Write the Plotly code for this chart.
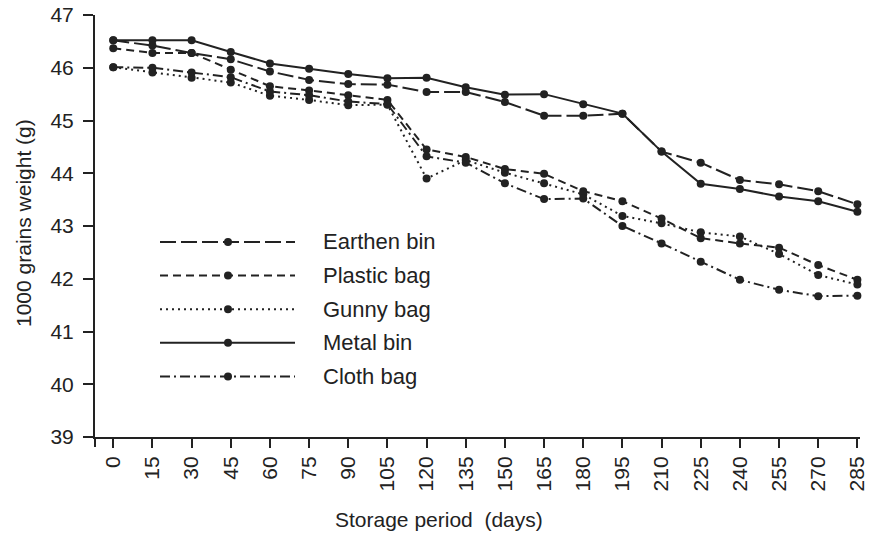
import plotly.graph_objects as go

days = [0, 15, 30, 45, 60, 75, 90, 105, 120, 135, 150, 165, 180, 195, 210, 225, 240, 255, 270, 285]
earthen = [46.52, 46.42, 46.28, 46.16, 45.93, 45.77, 45.69, 45.68, 45.54, 45.54, 45.35, 45.09, 45.09, 45.13, 44.41, 44.20, 43.87, 43.79, 43.66, 43.41]
plastic = [46.37, 46.28, 46.28, 45.96, 45.65, 45.57, 45.48, 45.39, 44.45, 44.31, 44.08, 43.99, 43.66, 43.47, 43.14, 42.77, 42.67, 42.59, 42.26, 41.98]
gunny = [46.01, 45.91, 45.81, 45.72, 45.47, 45.39, 45.29, 45.30, 43.90, 44.25, 44.01, 43.81, 43.60, 43.19, 43.05, 42.88, 42.80, 42.47, 42.07, 41.89]
metal = [46.52, 46.52, 46.52, 46.30, 46.08, 45.98, 45.88, 45.80, 45.81, 45.63, 45.49, 45.50, 45.31, 45.13, 44.41, 43.80, 43.70, 43.56, 43.47, 43.27]
cloth = [46.01, 46.00, 45.91, 45.82, 45.55, 45.48, 45.36, 45.31, 44.32, 44.20, 43.81, 43.51, 43.52, 43.00, 42.67, 42.32, 41.98, 41.79, 41.67, 41.68]

series_names = ["Earthen bin", "Plastic bag", "Gunny bag", "Metal bin", "Cloth bag"]
series_values = [earthen, plastic, gunny, metal, cloth]
dashes = ["16px,5px", "8px,5px", "2px,4px", "solid", "10px,4px,2px,4px"]
y_ticks = [39, 40, 41, 42, 43, 44, 45, 46, 47]
x_title = "Storage period\u00a0 (days)"
y_title = "1000 grains weight (g)"

INK = "#222222"
FONT = "Liberation Sans, Arial, sans-serif"
LW = 2.0

fig = go.Figure()
for name, vals, dash in zip(series_names, series_values, dashes):
    fig.add_trace(go.Scatter(
        x=days, y=vals, name=name, mode="lines+markers",
        line=dict(color=INK, width=LW, dash=dash),
        marker=dict(color=INK, size=8, symbol="circle"),
        cliponaxis=False, showlegend=False,
    ))

# layout geometry (pixels)
L, R, T, B = 95, 860, 15, 437
W, H = R - L, B - T
def px_x(p):
    return (p - L) / W
def px_y(p):
    return (B - p) / H

# custom legend (long line samples like the reference)
legend_rows = [242, 275.6, 309.2, 342.8, 376.4]
shapes = []
annotations = []
for name, dash, ry in zip(series_names, dashes, legend_rows):
    shapes.append(dict(type="line", xref="paper", yref="paper",
                       x0=px_x(160), x1=px_x(295), y0=px_y(ry), y1=px_y(ry),
                       line=dict(color=INK, width=LW, dash=dash)))
    shapes.append(dict(type="circle", xref="paper", yref="paper",
                       x0=px_x(224), x1=px_x(232), y0=px_y(ry + 4), y1=px_y(ry - 4),
                       fillcolor=INK, line=dict(color=INK, width=0)))
    annotations.append(dict(xref="paper", yref="paper", x=px_x(321), y=px_y(ry),
                            xanchor="left", yanchor="middle", showarrow=False,
                            text=name, font=dict(family=FONT, size=22, color=INK)))

# axis titles
annotations.append(dict(xref="paper", yref="paper", x=px_x(438.5), y=px_y(519),
                        xanchor="center", yanchor="middle", showarrow=False,
                        text=x_title, font=dict(family=FONT, size=21, color=INK)))
annotations.append(dict(xref="paper", yref="paper", x=px_x(23), y=px_y(223),
                        xanchor="center", yanchor="middle", showarrow=False, textangle=-90,
                        text=y_title, font=dict(family=FONT, size=21, color=INK)))

# small extension of the y axis below the x axis
shapes.append(dict(type="line", xref="paper", yref="paper", x0=0, x1=0,
                   y0=0, y1=-10 / H, line=dict(color=INK, width=2)))

fig.update_layout(
    width=878, height=535,
    margin=dict(l=L, r=878 - R, t=T, b=535 - B),
    paper_bgcolor="white", plot_bgcolor="white",
    font=dict(family=FONT, size=21, color=INK),
    shapes=shapes, annotations=annotations,
    showlegend=False,
)
fig.update_xaxes(
    range=[-7, 286], tickmode="array", tickvals=days, ticktext=[str(d) for d in days],
    tickangle=-90, ticks="outside", ticklen=9, tickwidth=2, tickcolor=INK,
    showline=True, linewidth=2, linecolor=INK, showgrid=False, zeroline=False,
    tickfont=dict(family=FONT, size=21, color=INK), automargin=False,
)
fig.update_yaxes(
    range=[39, 47], tickmode="array", tickvals=y_ticks,
    ticks="outside", ticklen=10, tickwidth=2, tickcolor=INK,
    showline=True, linewidth=2, linecolor=INK, showgrid=False, zeroline=False,
    tickfont=dict(family=FONT, size=21, color=INK), automargin=False,
    ticklabelstandoff=5,
)

fig.write_html("out.html", config={"displayModeBar": False},
               post_script="document.body.style.margin='0';document.body.style.overflow='hidden';")
